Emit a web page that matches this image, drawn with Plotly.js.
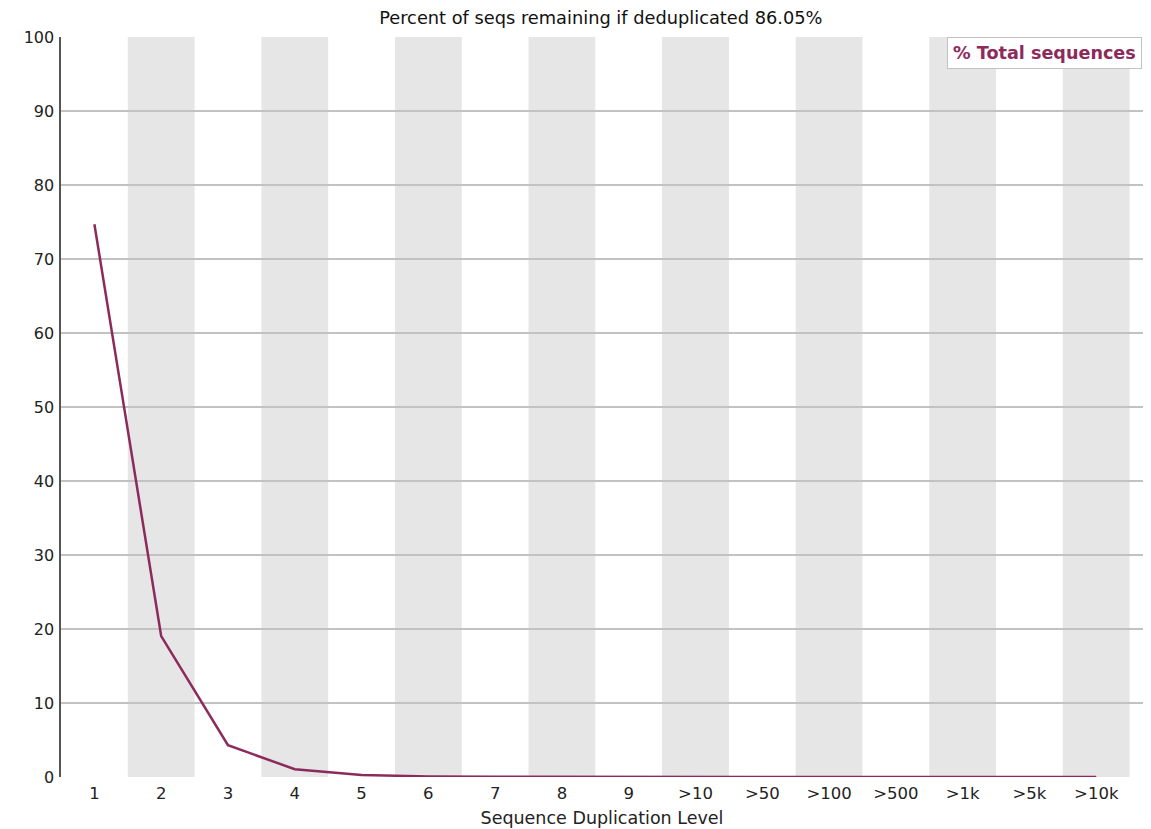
<!DOCTYPE html>
<html>
<head>
<meta charset="utf-8">
<script src="https://cdn.plot.ly/plotly-3.0.1.min.js"></script>
<style>html,body{margin:0;padding:0;background:#fff}#chart{width:1151px;height:829px}</style>
</head>
<body>
<div id="chart"></div>
<script>
const categories = ["1","2","3","4","5","6","7","8","9",">10",">50",">100",">500",">1k",">5k",">10k"];
const totalSequences = [74.7, 19.05, 4.3, 1.05, 0.28, 0.07, 0.03, 0.02, 0.01, 0.02, 0.01, 0.0, 0.0, 0.0, 0.0, 0.0];
const yTicks = [0,10,20,30,40,50,60,70,80,90,100];
const titleText = "Percent of seqs remaining if deduplicated 86.05%";
const seriesName = "% Total sequences";
const xTitle = "Sequence Duplication Level";

const lineColor = "#8c2a5c";
const font = "DejaVu Sans, Verdana, sans-serif";

const shapes = [];
categories.forEach((c, i) => {
  if (i % 2 === 1) {
    shapes.push({type: "rect", xref: "x", yref: "paper", x0: i - 0.5, x1: i + 0.5, y0: 0, y1: 1,
      fillcolor: "#e6e6e6", line: {width: 0}, layer: "below"});
  }
});

const trace = {
  x: categories.map((c, i) => i),
  y: totalSequences,
  type: "scatter",
  mode: "lines",
  name: seriesName,
  line: {color: lineColor, width: 2.5},
  showlegend: false,
  hoverinfo: "y"
};

const layout = {
  width: 1151, height: 829,
  margin: {l: 61, r: 8, t: 37, b: 52},
  paper_bgcolor: "#fff",
  plot_bgcolor: "rgba(0,0,0,0)",
  font: {family: font, size: 16, color: "#222"},
  title: {text: titleText, font: {family: font, size: 17.8, color: "#111"}, x: 0.522, xanchor: "center", y: 0.979, yanchor: "middle"},
  xaxis: {
    tickmode: "array",
    tickvals: categories.map((c, i) => i),
    ticktext: categories,
    range: [-0.5, 15.7],
    showgrid: false, zeroline: false, showline: false,
    ticks: "", ticklen: 0,
    ticklabelstandoff: 4,
    tickfont: {family: font, size: 16.5, color: "#222"},
    title: {text: xTitle, font: {family: font, size: 17.5, color: "#222"}, standoff: 10},
    fixedrange: true
  },
  yaxis: {
    range: [0, 100],
    tickmode: "array",
    tickvals: yTicks,
    showgrid: true, gridcolor: "#c2c2c2", gridwidth: 1.2,
    zeroline: false,
    showline: true, linecolor: "#555", linewidth: 1.6,
    ticks: "", ticklen: 0,
    ticklabelstandoff: 2,
    tickfont: {family: font, size: 16, color: "#222"},
    fixedrange: true
  },
  shapes: shapes,
  annotations: [{
    xref: "paper", yref: "paper", x: 0.999, y: 1.0, xanchor: "right", yanchor: "top",
    text: "<b>" + seriesName + "</b>", showarrow: false,
    font: {family: font, size: 17.6, color: lineColor},
    bgcolor: "#fff", bordercolor: "#c2c2c2", borderwidth: 1, borderpad: 5
  }]
};

Plotly.newPlot("chart", [trace], layout, {displayModeBar: false, staticPlot: true});
</script>
</body>
</html>
